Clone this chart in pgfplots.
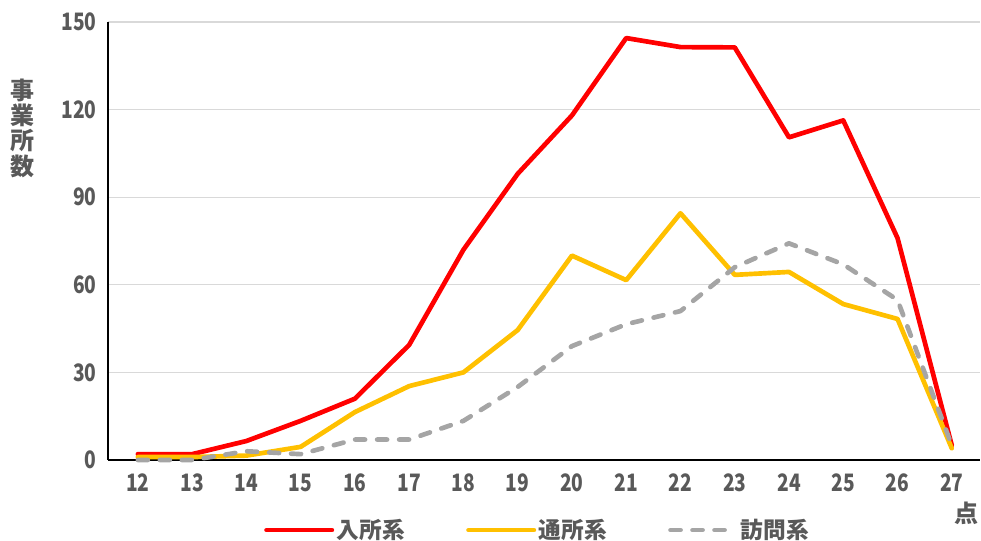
\documentclass[border=0pt]{standalone}
\usepackage{pgfplots}
\pgfplotsset{compat=1.18}
\usepackage{fontspec}
\setmainfont{Noto Sans CJK JP}
\definecolor{cred}{HTML}{FF0000}
\definecolor{cyel}{HTML}{FFC000}
\definecolor{cgray}{HTML}{A5A5A5}
\definecolor{ctext}{HTML}{595959}
\definecolor{cgrid}{HTML}{D9D9D9}
\begin{document}
\begin{tikzpicture}[x=0.75pt,y=0.75pt]
\useasboundingbox (-108,-81) rectangle (873,460);
\begin{axis}[
  at={(0,0)}, anchor=south west,
  scale only axis, width=654pt, height=328.5pt,
  xmin=11.45, xmax=27.52, ymin=0, ymax=150,
  xtick={12,...,27}, ytick={0,30,...,150},
  axis x line*=bottom, axis y line*=left,
  axis line style={black, line width=1.2pt, -},
  ymajorgrids, grid style={cgrid, line width=1pt},
  major tick length=0pt,
  tick label style={color=ctext, font=\fontsize{18}{18}\selectfont\bfseries},
  xticklabel={\scalebox{0.8}[1]{\pgfmathprintnumber{\tick}}},
  yticklabel={\scalebox{0.8}[1]{\pgfmathprintnumber{\tick}}},
  xticklabel style={yshift=-7pt},
  yticklabel style={xshift=-5pt},
  /pgf/number format/assume math mode=true,
  legend style={draw=none, at={(0.493,-0.16)}, anchor=center, legend columns=3,
    font=\fontsize{17}{17}\selectfont\bfseries, text=ctext,
    /tikz/every even column/.append style={column sep=44pt}},
  legend image code/.code={\draw[#1] (0pt,0pt) -- (49pt,0pt);},
  every axis plot/.append style={line width=3.5pt, line join=round},
  clip=false,
]
\addplot[cred, line cap=round] coordinates {
(12,2)(13,2)(14,6.5)(15,13.4)(16,21)(17,39.4)(18,72)(19,98)(20,118)(21,144.5)(22,141.4)(23,141.3)(24,110.5)(25,116.3)(26,76)(27,5)};
\addlegendentry{入所系}
\addplot[cyel, line cap=round] coordinates {
(12,1)(13,1)(14,1.5)(15,4.5)(16,16.4)(17,25.3)(18,30)(19,44.5)(20,70)(21,61.6)(22,84.5)(23,63.4)(24,64.4)(25,53.4)(26,48.3)(27,4)};
\addlegendentry{通所系}
\addplot[cgray, line cap=round, dash pattern=on 7.5pt off 9pt] coordinates {
(12,0)(13,0)(14,3)(15,2)(16,7)(17,7)(18,13.4)(19,25)(20,39)(21,46.5)(22,51)(23,66)(24,74.2)(25,67)(26,54.8)(27,5)};
\addlegendentry{訪問系}
\node[color=ctext, font=\fontsize{18}{19}\selectfont\bfseries, align=center, inner sep=0]
  at (axis description cs:-0.0986,0.758) {事\\業\\所\\数};
\node[color=ctext, font=\fontsize{18}{18}\selectfont\bfseries, inner sep=0]
  at (axis description cs:0.984,-0.121) {点};
\end{axis}
\end{tikzpicture}
\end{document}
